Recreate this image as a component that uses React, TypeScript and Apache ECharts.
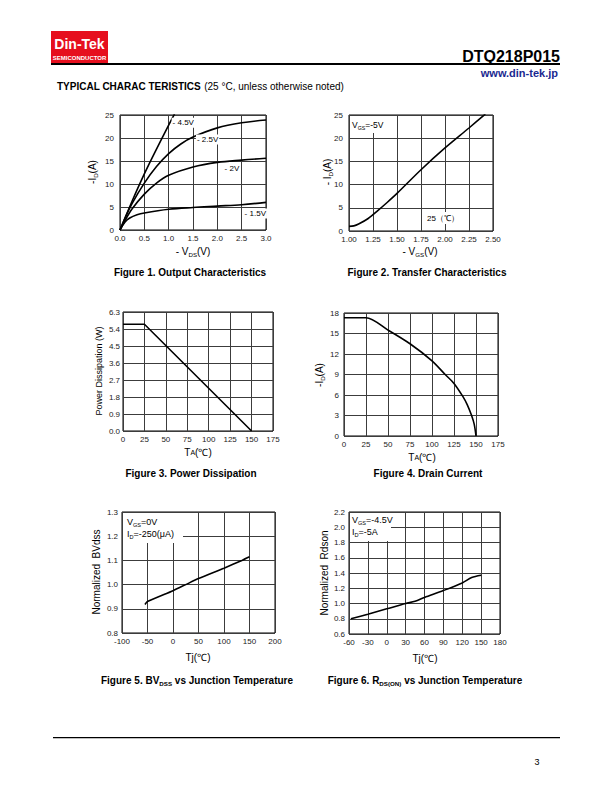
import React, { useEffect, useRef } from 'react';
import * as echarts from 'echarts';

const FONT = '"Liberation Sans", Arial, Helvetica, sans-serif';

// Figure 1: Output characteristics  (-VDS V, -ID A)
const f1Vgs45: number[][] = [[0, 0], [0.25, 6.3], [0.5, 12.2], [0.75, 17.6], [1.0, 22.8], [1.12, 25.2]];
const f1Vgs25: number[][] = [[0, 0], [0.1, 2.5], [0.25, 5.8], [0.5, 10.2], [0.75, 13.8], [1.0, 16.6], [1.25, 18.7], [1.5, 20.2], [2.0, 22.2], [2.5, 23.3], [3.0, 23.9]];
const f1Vgs2: number[][] = [[0, 0], [0.1, 2.0], [0.25, 4.6], [0.5, 7.8], [0.75, 10.2], [1.0, 11.9], [1.5, 13.7], [2.0, 14.7], [2.5, 15.2], [3.0, 15.6]];
const f1Vgs15: number[][] = [[0, 0], [0.1, 1.7], [0.2, 2.6], [0.35, 3.3], [0.5, 3.7], [1.0, 4.5], [1.5, 4.9], [2.0, 5.2], [2.5, 5.5], [3.0, 6.0]];
const f1Names = ['- 4.5V', '- 2.5V', '- 2V', '- 1.5V'];
const f1LabelAt: number[][] = [[1.3, 23.3], [1.8, 19.7], [2.3, 13.3], [2.78, 3.6]];

// Figure 2: Transfer characteristics (-VGS V, -ID A)
const f2Transfer: number[][] = [[1.0, 1.0], [1.05, 1.1], [1.1, 1.5], [1.2, 2.7], [1.3, 4.4], [1.4, 6.2], [1.5, 8.1], [1.75, 13.2], [2.0, 17.9], [2.25, 22.2], [2.42, 25.2]];

// Figure 3: Power dissipation (TA, W)
const f3Power: number[][] = [[0, 5.65], [25, 5.65], [150, 0]];

// Figure 4: Drain current (TA, -ID A)
const f4Current: number[][] = [[0, 17.3], [25, 17.3], [50, 15.5], [75, 13.5], [100, 11.0], [115, 9.0], [125, 7.7], [135, 5.8], [140, 4.6], [145, 3.0], [148, 1.7], [150, 0]];

// Figure 5: Normalized BVdss vs Tj
const f5BV: number[][] = [[-55, 0.918], [-50, 0.93], [0, 0.975], [25, 1.0], [50, 1.025], [100, 1.068], [135, 1.1], [150, 1.115]];

// Figure 6: Normalized Rdson vs Tj
const f6Rds: number[][] = [[-57, 0.8], [-30, 0.86], [0, 0.93], [30, 1.0], [45, 1.03], [60, 1.08], [90, 1.17], [120, 1.27], [135, 1.34], [150, 1.37]];

// axis ranges [min, max, interval, decimals]
const f1X = [0, 3, 0.5, 1], f1Y = [0, 25, 5, 0];
const f2X = [1, 2.5, 0.25, 2], f2Y = [0, 25, 5, 0];
const f3X = [0, 175, 25, 0], f3Y = [0, 6.3, 0.9, 1];
const f4X = [0, 175, 25, 0], f4Y = [0, 18, 3, 0];
const f5X = [-100, 200, 50, 0], f5Y = [0.8, 1.3, 0.1, 1];
const f6X = [-60, 180, 30, 0], f6Y = [0.6, 2.2, 0.2, 1];

const grids = [
  [120, 115, 146, 115],
  [349, 115, 144, 116],
  [123, 312, 150, 119],
  [344, 313, 154, 123],
  [122, 512, 153, 121],
  [349, 512, 151, 122],
];
const yMargins = [6, 6, 3, 5, 4, 4];

function axis(gi: number, r: number[], margin: number) {
  return {
    type: 'value',
    gridIndex: gi,
    min: r[0],
    max: r[1],
    interval: r[2],
    axisLine: { show: false },
    axisTick: { show: false },
    splitLine: { show: true, lineStyle: { color: '#3c3c3c', width: 1 } },
    axisLabel: {
      fontSize: 8,
      color: '#222',
      fontFamily: FONT,
      margin,
      formatter: (v: number) => v.toFixed(r[3]),
    },
  };
}

function lineSeries(gi: number, data: number[][], smooth: boolean | number, extra: any = {}) {
  return {
    type: 'line',
    xAxisIndex: gi,
    yAxisIndex: gi,
    data,
    smooth,
    showSymbol: false,
    symbol: 'none',
    lineStyle: { color: '#000', width: 1.6 },
    clip: true,
    z: 3,
    ...extra,
  };
}

function curveLabel(name: string, at: number[]) {
  return {
    markPoint: {
      symbol: 'rect',
      symbolSize: 1,
      silent: true,
      itemStyle: { color: 'rgba(0,0,0,0)' },
      label: {
        show: true,
        position: 'inside',
        color: '#000',
        fontSize: 8,
        fontFamily: FONT,
        backgroundColor: '#fff',
        padding: [1, 1],
        formatter: '{b}',
      },
      data: [{ coord: at, name }],
    },
  };
}

const subRich = (size: number, bold = false) => ({
  n: { fontSize: size, fontFamily: FONT, fontWeight: bold ? 'bold' : 'normal', fill: '#000', color: '#000', lineHeight: size + 3, verticalAlign: 'middle' },
  s: { fontSize: size * 0.62, fontFamily: FONT, fontWeight: bold ? 'bold' : 'normal', fill: '#000', color: '#000', lineHeight: size * 0.7, verticalAlign: 'bottom' },
});

function txt(text: string, x: number, y: number, size: number, opts: any = {}) {
  const { rotate, align, bold, fill, z } = opts;
  return {
    type: 'text',
    x,
    y,
    rotation: rotate ? Math.PI / 2 : 0,
    z: z ?? 50,
    style: {
      text,
      fill: fill || '#000',
      fontSize: size,
      fontFamily: FONT,
      fontWeight: bold ? 'bold' : 'normal',
      align: align || 'center',
      verticalAlign: 'middle',
      rich: subRich(size, bold),
    },
  };
}

function whiteRect(x: number, y: number, w: number, h: number) {
  return { type: 'rect', shape: { x, y, width: w, height: h }, style: { fill: '#fff' }, z: 40 };
}

export default function App() {
  const ref = useRef<HTMLDivElement>(null);
  useEffect(() => {
    if (!ref.current) return;
    const chart = echarts.init(ref.current, undefined, { renderer: 'svg' });
    const gridOpts = grids.map(([l, t, w, h]) => ({
      left: l, top: t, width: w, height: h, show: true, borderColor: '#000', borderWidth: 1, backgroundColor: 'transparent', containLabel: false,
    }));
    const xr = [f1X, f2X, f3X, f4X, f5X, f6X];
    const yr = [f1Y, f2Y, f3Y, f4Y, f5Y, f6Y];
    const f1Data = [f1Vgs45, f1Vgs25, f1Vgs2, f1Vgs15];

    const series: any[] = [];
    f1Data.forEach((d, i) => series.push(lineSeries(0, d, 0.35, curveLabel(f1Names[i], f1LabelAt[i]))));
    series.push(lineSeries(1, f2Transfer, 0.3));
    series.push(lineSeries(2, f3Power, false));
    series.push(lineSeries(3, f4Current, 0.3));
    series.push(lineSeries(4, f5BV, 0.2));
    series.push(lineSeries(5, f6Rds, 0.3));

    const taRich = { t: { fontSize: 10, fontFamily: FONT, fill: '#000' }, a: { fontSize: 7, fontFamily: FONT, fill: '#000' } };

    const graphic: any[] = [
      // header
      { type: 'rect', shape: { x: 51, y: 31, width: 57, height: 32 }, style: { fill: '#e60f1e' }, z: 50 },
      txt('Din-Tek', 79.5, 44, 14, { bold: true, fill: '#fff' }),
      { type: 'text', x: 79.5, y: 57.5, z: 51, style: { text: 'SEMICONDUCTOR', fill: '#fff', fontSize: 6, fontWeight: 'bold', fontFamily: FONT, align: 'center', verticalAlign: 'middle' } },
      txt('DTQ218P015', 560, 56, 16, { bold: true, align: 'right' }),
      { type: 'rect', shape: { x: 51, y: 63, width: 509, height: 2 }, style: { fill: '#000' }, z: 50 },
      { type: 'text', x: 558, y: 72.5, z: 50, style: { text: 'www.din-tek.jp', fill: '#1a2890', fontSize: 11, fontWeight: 'bold', fontFamily: FONT, align: 'right', verticalAlign: 'middle' } },
      {
        type: 'text', x: 57, y: 86, z: 50,
        style: {
          text: '{b|TYPICAL CHARAC TERISTICS} {r|(25 °C, unless otherwise noted)}',
          align: 'left', verticalAlign: 'middle',
          rich: {
            b: { fontSize: 10, fontWeight: 'bold', fontFamily: FONT, fill: '#000' },
            r: { fontSize: 10, fontFamily: FONT, fill: '#000' },
          },
        },
      },
      // axis names
      txt('{n|-I}{s|D}{n|(A)}', 92, 172, 10, { rotate: true }),
      txt('{n|- V}{s|DS}{n|(V)}', 193, 251, 10),
      txt('{n|- I}{s|D}{n|(A)}', 327, 172, 10, { rotate: true }),
      txt('{n|- V}{s|GS}{n|(V)}', 420, 251, 10),
      txt('Power Dissipation (W)', 99, 371, 9, { rotate: true }),
      { type: 'text', x: 198, y: 452, z: 50, style: { text: '{t|T}{a|A}{t|(℃)}', align: 'center', verticalAlign: 'middle', rich: taRich } },
      txt('{n|-I}{s|D}{n|(A)}', 319, 375, 10, { rotate: true }),
      { type: 'text', x: 422, y: 457, z: 50, style: { text: '{t|T}{a|A}{t|(℃)}', align: 'center', verticalAlign: 'middle', rich: taRich } },
      txt('Normalized  BVdss', 96, 572, 10, { rotate: true }),
      txt('Tj(℃)', 198, 657, 10),
      txt('Normalized  Rdson', 324, 573, 10, { rotate: true }),
      txt('Tj(℃)', 425, 658, 10),
      // annotation boxes
      whiteRect(350, 116, 40, 17),
      txt('{n|V}{s|GS}{n|=-5V}', 352, 125, 8.5, { align: 'left' }),
      whiteRect(430, 212, 28, 12),
      txt('25（℃）', 443, 218, 8, {}),
      whiteRect(123, 513, 60, 30),
      txt('{n|V}{s|GS}{n|=0V}', 127, 522, 9, { align: 'left' }),
      txt('{n|I}{s|D}{n|=-250(μA)}', 127, 534, 9, { align: 'left' }),
      whiteRect(350, 513, 41, 28),
      txt('{n|V}{s|GS}{n|=-4.5V}', 352, 520, 9, { align: 'left' }),
      txt('{n|I}{s|D}{n|=-5A}', 352, 532, 9, { align: 'left' }),
      // captions
      txt('Figure 1. Output Characteristics', 190, 272, 10, { bold: true }),
      txt('Figure 2. Transfer Characteristics', 427, 272, 10, { bold: true }),
      txt('Figure 3. Power Dissipation', 191, 473, 10, { bold: true }),
      txt('Figure 4. Drain Current', 428, 473, 10, { bold: true }),
      txt('{n|Figure 5. BV}{s|DSS}{n| vs Junction Temperature}', 197, 680, 10, { bold: true }),
      txt('{n|Figure 6. R}{s|DS(ON)}{n| vs Junction Temperature}', 425, 680, 10, { bold: true }),
      // footer
      { type: 'rect', shape: { x: 53, y: 737, width: 507, height: 1.3 }, style: { fill: '#000' }, z: 50 },
      txt('3', 537, 762, 9),
    ];

    chart.setOption({
      animation: false,
      backgroundColor: '#fff',
      textStyle: { fontFamily: FONT },
      grid: gridOpts,
      xAxis: xr.map((r, i) => axis(i, r, 4)),
      yAxis: yr.map((r, i) => axis(i, r, yMargins[i])),
      series,
      graphic,
    });
    return () => chart.dispose();
  }, []);
  return <div ref={ref} style={{ position: 'absolute', left: 0, top: 0, width: 612, height: 792 }} />;
}
